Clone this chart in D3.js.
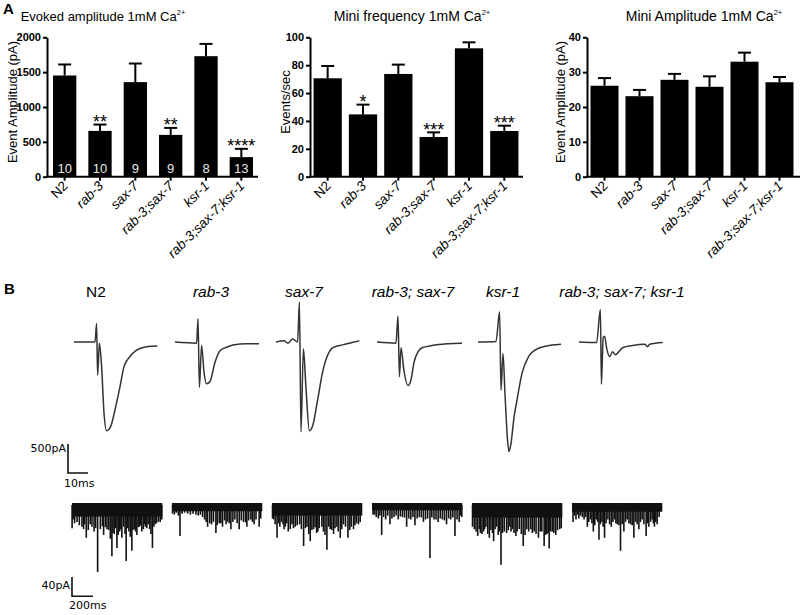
<!DOCTYPE html>
<html>
<head>
<meta charset="utf-8">
<script src="https://cdn.jsdelivr.net/npm/d3@7"></script>
<style>
body { margin: 0; background: #fff; }
svg { display: block; font-family: "Liberation Sans", Arial, sans-serif; }
</style>
</head>
<body>
<div id="chart"></div>
<script>
var width = 800;
var height = 615;

var genotypes = ["N2", "rab-3", "sax-7", "rab-3;sax-7", "ksr-1", "rab-3;sax-7;ksr-1"];
var traceLabels = ["N2", "rab-3", "sax-7", "rab-3; sax-7", "ksr-1", "rab-3; sax-7; ksr-1"];

// panel A bar data (mean, SEM)
var evokedMean = [1452, 657, 1357, 600, 1729, 281];
var evokedSem = [158, 91, 267, 100, 176, 119];
var evokedN = [10, 10, 9, 9, 8, 13];
var evokedStars = ["", "**", "", "**", "", "****"];

var freqMean = [70.6, 44.7, 73.7, 28.5, 92.1, 32.8];
var freqSem = [8.8, 7.0, 6.7, 3.3, 4.3, 3.8];
var freqStars = ["", "*", "", "***", "", "***"];

var ampMean = [26.1, 23.1, 27.8, 25.8, 33.0, 27.1];
var ampSem = [2.2, 1.8, 1.7, 3.0, 2.6, 1.5];

var evokedTicks = [0, 500, 1000, 1500, 2000];
var freqTicks = [0, 20, 40, 60, 80, 100];
var ampTicks = [0, 10, 20, 30, 40];

// panel B evoked traces: [time ms, current pA]
var evokedTraces = [
  [[0,0],[10.5,0],[11.3,320],[11.8,-570],[12.7,-20],[13.8,-425],[15,-1225],[16.3,-1530],[18.3,-1460],[20.5,-1170],[23,-770],[25,-425],[28,-250],[31.3,-140],[36.3,-80],[41.7,-70]],
  [[0,0],[10.8,-20],[11.5,400],[12.2,-780],[13.3,-60],[14.5,-520],[15.8,-720],[17.5,-680],[20,-350],[22.5,-150],[25.8,-90],[29,-50],[35.8,-30],[42,-30]],
  [[0,0],[4,20],[6,-20],[8.3,50],[10.8,0],[11.7,690],[12.5,-1550],[13.7,-115],[15,-800],[16.7,-1530],[18.3,-1450],[20.8,-1000],[23.3,-520],[25.8,-230],[28.3,-100],[33.3,-50],[38,-10],[41.7,20]],
  [[0,0],[9.5,-20],[10.5,450],[11.2,-600],[12,-100],[13.5,-500],[15.5,-750],[17,-650],[18.5,-350],[20.5,-170],[22.5,-100],[27.5,-60],[35,-30],[42.5,-20]],
  [[0,0],[9,10],[10.8,520],[11.5,-830],[12.5,-200],[13.5,-900],[14.8,-1700],[15.5,-1890],[16.5,-1750],[18,-1300],[19.5,-1000],[22,-540],[25.3,-250],[28.5,-140],[33.5,-75],[41.5,-40]],
  [[0,0],[8.8,-10],[10.7,560],[11.2,-730],[12.1,80],[12.8,100],[13.8,-100],[15.3,-250],[16.8,-170],[18.3,-220],[19.8,-170],[21.8,-100],[26.8,-60],[32.8,-40],[34.3,-80],[35.3,-40],[41.8,-10]]
];

// panel B spontaneous minis: [time ms, amplitude pA]
var miniEvents = [
  [[1,48],[48,35],[95,45],[136,68],[174,40],[244,139],[270,50],[301,62],[333,50],[380,106],[402,60],[428,89],[453,55],[475,68],[516,116],[542,55],[570,95],[592,50],[618,62],[643,45],[665,55],[690,40],[713,48],[766,89],[792,40],[823,35],[855,30],
   [15,30],[25,38],[70,42],[110,50],[120,40],[155,52],[190,45],[210,55],[225,48],[290,44],[318,46],[350,52],[365,70],[390,58],[415,48],[440,62],[465,50],[490,45],[505,60],[530,48],[555,66],[580,52],[605,55],[630,46],[655,42],[680,50],[700,45],[725,40],[740,50],[752,60],[780,45],[805,38],[840,35]],
  [[22,20],[76,64],[149,18],[228,20],[291,25],[339,45],[377,40],[418,58],[450,38],[481,45],[529,35],[561,50],[599,30],[640,50],[681,35],[713,45],[751,30],[782,40],[830,45],
   [5,18],[40,16],[60,22],[95,18],[120,16],[175,20],[200,18],[250,22],[270,20],[310,30],[325,35],[360,38],[395,35],[430,42],[465,38],[500,32],[515,40],[545,38],[580,35],[620,38],[660,32],[700,36],[730,32],[765,35],[800,30],[845,28]],
  [[16,30],[48,68],[89,35],[127,45],[174,50],[222,45],[263,40],[301,85],[333,45],[364,75],[396,50],[437,55],[475,45],[523,93],[554,50],[586,60],[618,45],[650,68],[681,40],[723,68],[754,45],[776,50],[823,40],
   [5,28],[30,40],[62,38],[75,45],[105,40],[115,50],[140,38],[155,55],[190,40],[205,48],[240,42],[280,50],[318,48],[350,60],[380,52],[410,46],[425,58],[450,48],[490,55],[505,62],[540,45],[570,52],[600,48],[630,55],[665,50],[700,45],[740,52],[790,42],[805,38],[840,35]],
  [[10,20],[40,25],[92,62],[130,30],[171,40],[210,25],[250,30],[290,25],[330,45],[370,30],[409,42],[450,25],[490,35],[552,110],[590,30],[630,35],[670,30],[710,40],[750,30],[790,64],[830,35],[855,25],
   [25,20],[60,28],[75,22],[110,25],[150,22],[190,28],[230,22],[270,24],[310,26],[350,28],[390,25],[430,28],[470,26],[510,30],[530,28],[570,26],[610,30],[650,28],[690,32],[730,28],[770,26],[810,30],[845,22]],
  [[22,50],[54,64],[95,60],[133,45],[165,68],[206,75],[234,45],[276,124],[307,55],[329,58],[361,45],[386,50],[418,64],[450,50],[488,85],[522,50],[560,50],[592,55],[633,68],[665,55],[687,85],[713,60],[735,90],[766,55],[798,62],[836,50],
   [5,45],[38,55],[70,50],[80,58],[110,55],[120,50],[150,60],[180,52],[195,58],[220,50],[250,62],[262,55],[290,58],[345,52],[372,55],[400,58],[430,55],[470,60],[505,62],[540,55],[575,58],[610,60],[650,55],[700,62],[725,58],[750,55],[780,58],[815,52],[850,48]],
  [[10,35],[51,20],[98,25],[146,45],[177,30],[203,55],[231,30],[257,72],[285,35],[310,68],[342,30],[374,45],[405,30],[431,40],[462,95],[494,55],[526,30],[557,40],[589,68],[637,50],[668,30],[706,64],[731,45],[763,30],[785,45],[811,40],
   [25,22],[38,30],[65,28],[80,22],[115,30],[130,25],[160,35],[190,38],[217,42],[245,35],[270,40],[297,45],[325,38],[358,40],[390,35],[418,38],[447,42],[478,40],[510,35],[542,38],[573,42],[605,35],[620,40],[652,35],[685,40],[720,38],[748,35],[775,38],[798,35],[830,25]]
];
// depth of the dense noise band under each mini trace (pA)
var miniBand = [24, 13, 22, 11, 26, 14];
var miniDuration = 860;

var svg = d3.select("#chart")
  .append("svg")
  .attr("width", width)
  .attr("height", height);

function isItalic(g) { return g !== "N2"; }

function barPanel(cfg) {
  var x = d3.scaleBand()
    .domain(genotypes)
    .range([cfg.left, cfg.right])
    .paddingInner(cfg.pad)
    .paddingOuter(cfg.pad / 2);
  var y = d3.scaleLinear()
    .domain([0, cfg.max])
    .range([176.7, 37.3]);

  var g = svg.append("g");

  // bars
  g.selectAll("rect.bar")
    .data(cfg.mean)
    .enter()
    .append("rect")
    .attr("x", function(d, i) { return x(genotypes[i]); })
    .attr("y", function(d) { return y(d); })
    .attr("width", x.bandwidth())
    .attr("height", function(d) { return y(0) - y(d); })
    .style("fill", "#000");

  // error bars (upper only)
  var cap = 6.5;
  cfg.mean.forEach(function(m, i) {
    var cx = x(genotypes[i]) + x.bandwidth() / 2;
    var top = y(m + cfg.sem[i]);
    g.append("line").attr("x1", cx).attr("x2", cx).attr("y1", y(m)).attr("y2", top)
      .style("stroke", "#000").style("stroke-width", 2);
    g.append("line").attr("x1", cx - cap).attr("x2", cx + cap).attr("y1", top).attr("y2", top)
      .style("stroke", "#000").style("stroke-width", 2);
    if (cfg.stars && cfg.stars[i]) {
      g.append("text").attr("x", cx).attr("y", top + 3.5)
        .attr("text-anchor", "middle")
        .style("font-size", "18px")
        .text(cfg.stars[i]);
    }
    if (cfg.n) {
      g.append("text").attr("x", cx).attr("y", 173)
        .attr("text-anchor", "middle")
        .style("font-size", "13px")
        .style("fill", "#e8e8e8")
        .text(cfg.n[i]);
    }
  });

  // y axis
  var yAxis = g.append("g")
    .attr("transform", "translate(" + cfg.left + ",0)")
    .call(d3.axisLeft(y).tickValues(cfg.ticks).tickFormat(d3.format("d"))
      .tickSize(4).tickSizeOuter(0).tickPadding(2));
  yAxis.select(".domain").style("stroke-width", 2);
  yAxis.selectAll(".tick line").style("stroke-width", 2);
  yAxis.selectAll(".tick text")
    .style("font-size", "11px")
    .style("font-weight", "bold")
    .style("font-family", "Liberation Sans, Arial, sans-serif")
    .style("fill", "#000");

  // x axis
  g.append("line")
    .attr("x1", cfg.left - 1).attr("x2", cfg.axisEnd)
    .attr("y1", y(0)).attr("y2", y(0))
    .style("stroke", "#000").style("stroke-width", 2);
  genotypes.forEach(function(gn) {
    var cx = x(gn) + x.bandwidth() / 2;
    g.append("line").attr("x1", cx).attr("x2", cx).attr("y1", y(0)).attr("y2", y(0) + 4)
      .style("stroke", "#000").style("stroke-width", 2);
    g.append("text")
      .attr("transform", "translate(" + (cx + 4) + "," + (y(0) + 10) + ") rotate(-45)")
      .attr("text-anchor", "end")
      .style("font-size", "13.5px")
      .style("font-style", isItalic(gn) ? "italic" : "normal")
      .text(gn);
  });

  // title with Ca2+ superscript
  var t = g.append("text")
    .attr("x", cfg.titleX).attr("y", 21)
    .attr("text-anchor", "middle")
    .style("font-size", cfg.titleSize + "px");
  t.append("tspan").text(cfg.title + " Ca");
  t.append("tspan").attr("dy", -6).style("font-size", "7.5px").text("2+");

  // y label
  g.append("text")
    .attr("transform", "translate(" + cfg.ylabelX + "," + 102 + ") rotate(-90)")
    .attr("text-anchor", "middle")
    .style("font-size", "13px")
    .text(cfg.ylabel);
}

barPanel({left: 47, right: 259, axisEnd: 258, pad: 0.34, max: 2000, ticks: evokedTicks,
  mean: evokedMean, sem: evokedSem, stars: evokedStars, n: evokedN,
  title: "Evoked amplitude 1mM", titleX: 103, titleSize: 13, ylabel: "Event Amplitude (pA)", ylabelX: 17});
barPanel({left: 310, right: 522, axisEnd: 523, pad: 0.2, max: 100, ticks: freqTicks,
  mean: freqMean, sem: freqSem, stars: freqStars,
  title: "Mini frequency 1mM", titleX: 412, titleSize: 14, ylabel: "Events/sec", ylabelX: 290});
barPanel({left: 587, right: 797, axisEnd: 800, pad: 0.2, max: 40, ticks: ampTicks,
  mean: ampMean, sem: ampSem,
  title: "Mini Amplitude 1mM", titleX: 704, titleSize: 14, ylabel: "Event Amplitude (pA)", ylabelX: 565});

// panel letters
svg.append("text").attr("x", 3).attr("y", 14).style("font-size", "15px").style("font-weight", "bold").text("A");
svg.append("text").attr("x", 4).attr("y", 294).style("font-size", "15px").style("font-weight", "bold").text("B");

// panel B: labels
var labelX = [96, 211, 304, 413, 503, 622];
svg.selectAll("text.trace-label")
  .data(traceLabels)
  .enter()
  .append("text")
  .attr("x", function(d, i) { return labelX[i]; })
  .attr("y", 297)
  .attr("text-anchor", "middle")
  .style("font-size", "15.5px")
  .style("font-style", function(d) { return d === "N2" ? "normal" : "italic"; })
  .text(function(d) { return d; });

// evoked traces
var colX = d3.scalePoint().domain(genotypes).range([74, 579]);
var tScale = d3.scaleLinear().domain([0, 10]).range([0, 20]);
var pAScale = d3.scaleLinear().domain([0, -500]).range([342, 371]);

evokedTraces.forEach(function(tr, i) {
  var x0 = colX(genotypes[i]);
  var line = d3.line()
    .x(function(d) { return x0 + tScale(d[0]); })
    .y(function(d) { return pAScale(d[1]); })
    .curve(d3.curveMonotoneX);
  svg.append("path")
    .datum(tr)
    .attr("d", line)
    .style("fill", "none")
    .style("stroke", "#333")
    .style("stroke-width", 1.5)
    .style("stroke-linejoin", "round");
});

// evoked scale bar: 500 pA / 10 ms
var sb = svg.append("g");
sb.append("path")
  .attr("d", "M68," + pAScale(0) + "V" + pAScale(-500) + "H" + (68 + tScale(10)))
  .attr("transform", "translate(0," + (444 - 342) + ")")
  .style("fill", "none").style("stroke", "#111").style("stroke-width", 1.6);
sb.append("text").attr("x", 66).attr("y", 452).attr("text-anchor", "end")
  .style("font-family", "DejaVu Sans, sans-serif").style("font-size", "11px").text("500pA");
sb.append("text").attr("x", 64).attr("y", 487)
  .style("font-family", "DejaVu Sans, sans-serif").style("font-size", "11px").text("10ms");

// mini traces
var miniCol = d3.scalePoint().domain(genotypes).range([72, 572]);
var msScale = d3.scaleLinear().domain([0, 200]).range([0, 21]);
var miniY = d3.scaleLinear().domain([0, -40]).range([505, 524.3]);

miniEvents.forEach(function(ev, i) {
  var x0 = miniCol(genotypes[i]);
  var gm = svg.append("g");
  gm.append("rect")
    .attr("x", x0)
    .attr("y", miniY(0) - 2)
    .attr("width", msScale(miniDuration))
    .attr("height", miniY(-miniBand[i]) - miniY(0) + 2)
    .style("fill", "#111");
  gm.selectAll("line.spike")
    .data(ev)
    .enter()
    .append("line")
    .attr("x1", function(d) { return x0 + msScale(d[0]); })
    .attr("x2", function(d) { return x0 + msScale(d[0]); })
    .attr("y1", miniY(0))
    .attr("y2", function(d) { return miniY(-d[1]); })
    .style("stroke", "#111")
    .style("stroke-width", 1.6);
});

// mini scale bar: 40 pA / 200 ms
var sb2 = svg.append("g");
sb2.append("path")
  .attr("d", "M72," + miniY(0) + "V" + miniY(-40) + "H" + (72 + msScale(200)))
  .attr("transform", "translate(0," + (577 - 505) + ")")
  .style("fill", "none").style("stroke", "#111").style("stroke-width", 1.6);
sb2.append("text").attr("x", 70).attr("y", 589).attr("text-anchor", "end")
  .style("font-family", "DejaVu Sans, sans-serif").style("font-size", "11px").text("40pA");
sb2.append("text").attr("x", 69).attr("y", 609)
  .style("font-family", "DejaVu Sans, sans-serif").style("font-size", "11px").text("200ms");
</script>
</body>
</html>
